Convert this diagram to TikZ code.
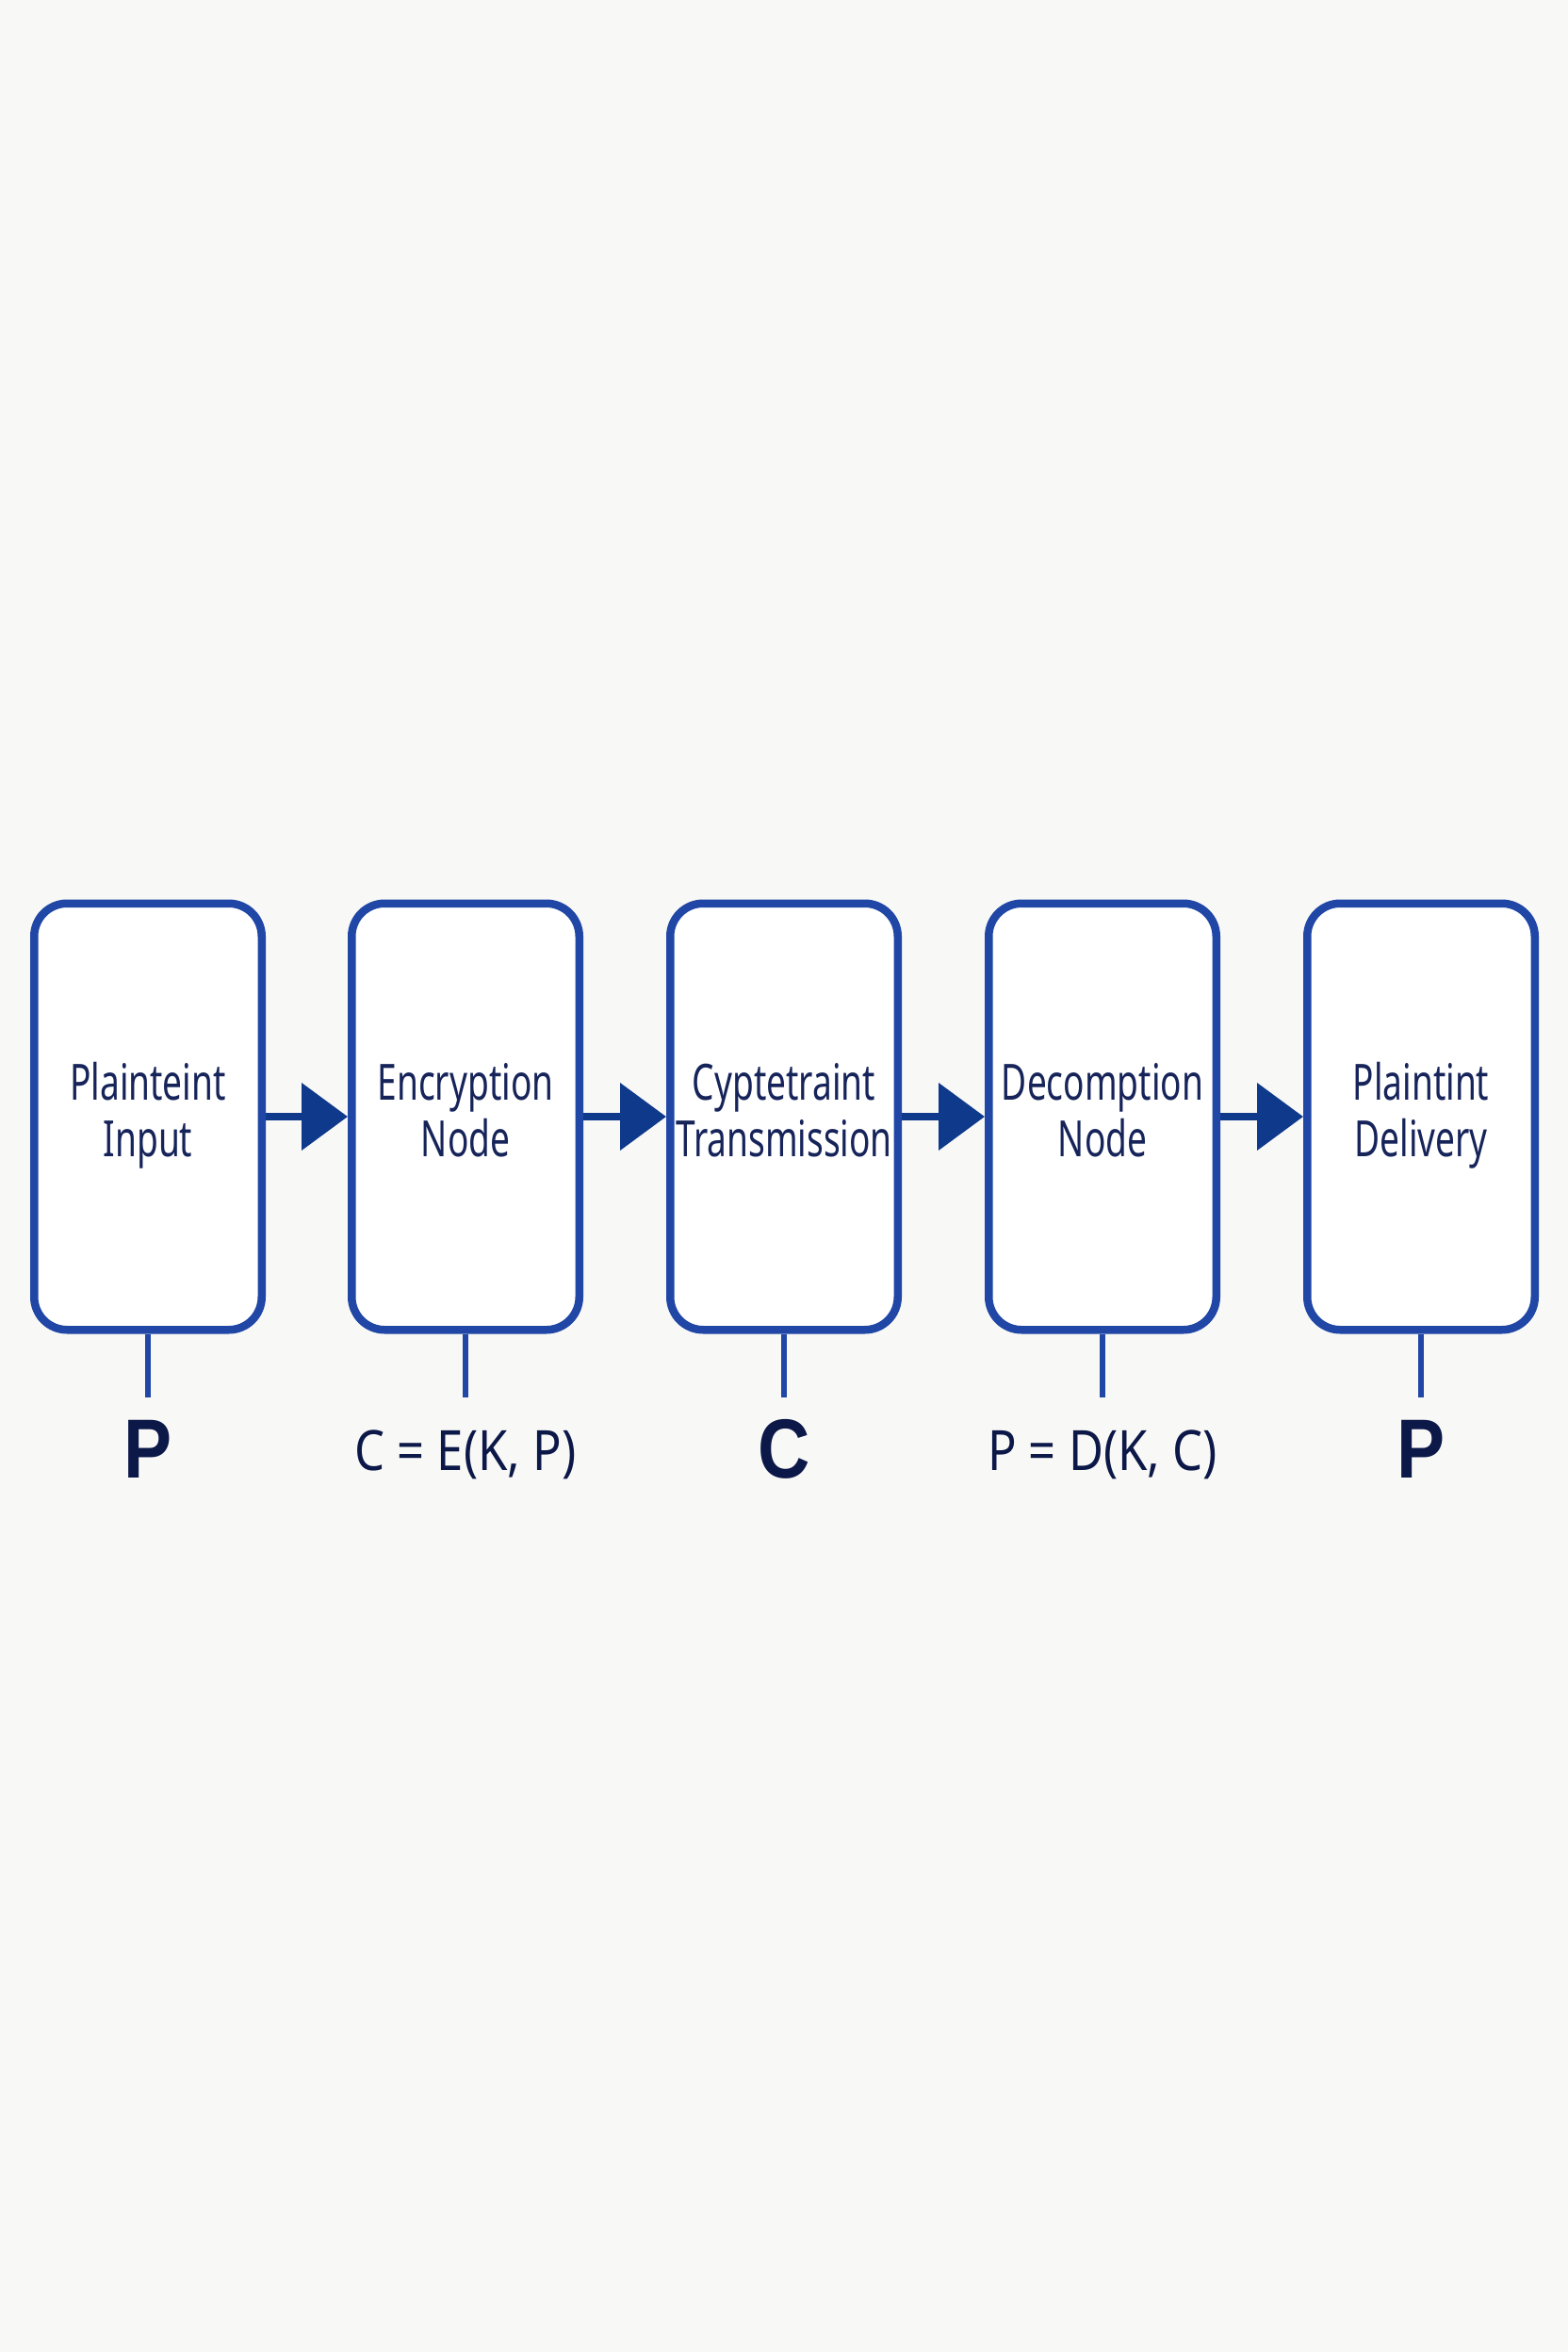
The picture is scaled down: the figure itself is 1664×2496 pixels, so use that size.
\documentclass[tikz,border=0pt]{standalone}
\usepackage{fontspec}
\usetikzlibrary{arrows.meta}
\newfontfamily\boxfont[FakeStretch=0.70]{Noto Sans}
\newfontfamily\lblfont[FakeStretch=0.86]{Noto Sans}
\newfontfamily\bigfont[FakeStretch=0.86]{Liberation Sans}
\newcommand\lnstrut{\rule[-15pt]{0pt}{55pt}}
\definecolor{bg}{HTML}{F8F8F6}
\definecolor{boxblue}{HTML}{2046A6}
\definecolor{arrblue}{HTML}{0F3A8C}
\definecolor{txtnavy}{HTML}{16245A}
\definecolor{lblnavy}{HTML}{0C1848}
\tikzset{
  stage/.style={draw=boxblue, fill=white, line width=8.5pt, rounded corners=35pt,
    minimum width=241.5pt, minimum height=452.5pt, inner sep=0pt, align=center,
    text=txtnavy, font={\boxfont\fontsize{53}{60}\selectfont}},
  flow/.style={draw=arrblue, line width=8pt, -{Triangle[length=49pt,width=70pt]}},
  stem/.style={draw=boxblue, line width=6.5pt},
  biglbl/.style={anchor=base, text=lblnavy, inner sep=0pt, font={\bigfont\bfseries\fontsize{89}{90}\selectfont}},
  eqlbl/.style={anchor=base, text=lblnavy, inner sep=0pt, font={\lblfont\fontsize{59}{60}\selectfont}}
}
\begin{document}
\begin{tikzpicture}[x=1pt,y=-1pt]
\fill[bg] (0,0) rectangle (1664,2496);
\useasboundingbox (0,0) rectangle (1664,2496);
\node[stage] (b1) at (157,1185) {\lnstrut Plainteint\\\lnstrut Input};
\node[stage] (b2) at (494,1185) {\lnstrut Encryption\\\lnstrut Node};
\node[stage] (b3) at (832,1185) {\lnstrut Cyptetraint\\\lnstrut Transmission};
\node[stage] (b4) at (1170,1185) {\lnstrut Decomption\\\lnstrut Node};
\node[stage] (b5) at (1508,1185) {\lnstrut Plaintint\\\lnstrut Delivery};
\draw[flow] (b1.east) -- (b2.west);
\draw[flow] (b2.east) -- (b3.west);
\draw[flow] (b3.east) -- (b4.west);
\draw[flow] (b4.east) -- (b5.west);
\foreach \i in {1,...,5}{
  \path (b\i.south) ++(0,67) coordinate (s\i);
  \draw[stem] (b\i.south) -- (s\i);
}
\node[biglbl] (l1) at (157,1568) {P};
\node[eqlbl] (l2) at (494,1560) {C = E(K, P)};
\node[biglbl] (l3) at (832,1568) {C};
\node[eqlbl] (l4) at (1170,1560) {P = D(K, C)};
\node[biglbl] (l5) at (1508,1568) {P};
\end{tikzpicture}
\end{document}
